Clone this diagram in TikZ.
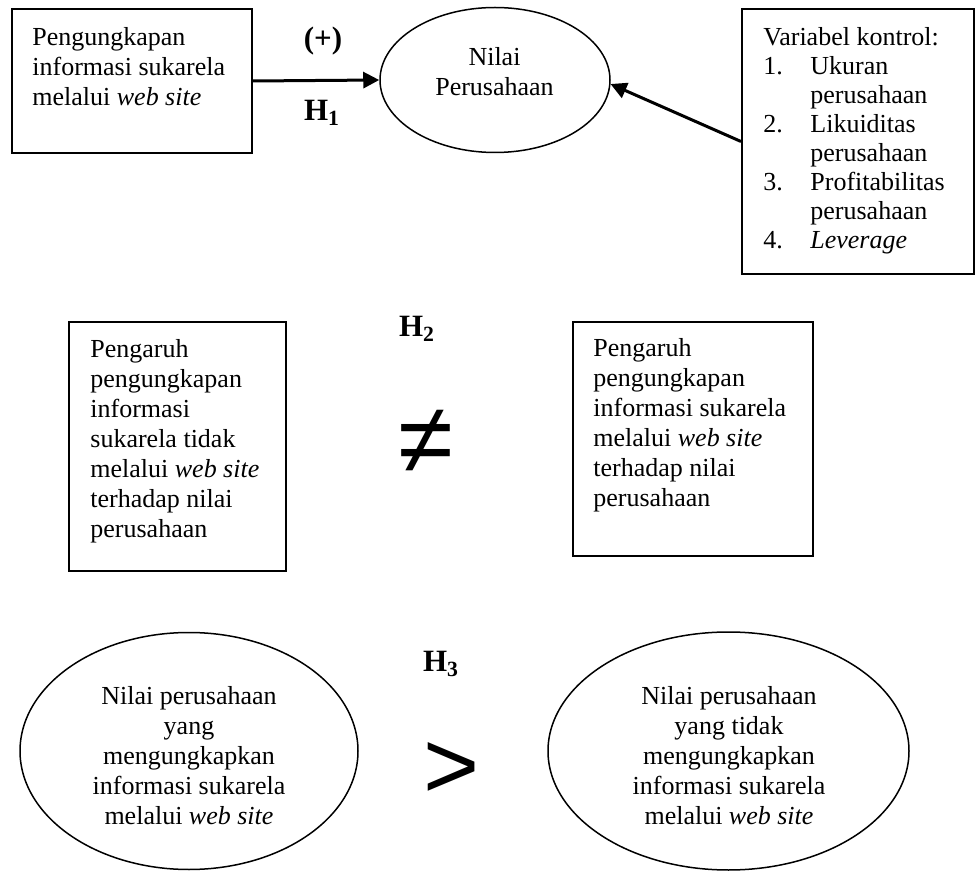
\documentclass[tikz,border=0pt]{standalone}
\usepackage{fontspec}
\setmainfont{Liberation Serif}
\setsansfont{Liberation Sans}
\usetikzlibrary{shapes.geometric,arrows.meta}
\begin{document}
\begin{tikzpicture}[x=0.5pt,y=-0.5pt,
 box/.style={draw,line width=1pt,inner sep=0,anchor=north west},
 txt/.style={inner sep=0,anchor=north west,align=left,font=\fontsize{13}{15}\selectfont},
 ctxt/.style={inner sep=0,align=center,font=\fontsize{13}{15}\selectfont},
 oval/.style={draw,ellipse,line width=0.75pt,inner sep=0},
 hyp/.style={inner sep=0,font=\fontsize{15.5}{18}\selectfont\bfseries},
 conn/.style={line width=1.5pt,-{Triangle[length=8pt,width=8pt]}},
 sym/.style={inner sep=0,font=\fontsize{50}{52}\selectfont\sffamily}]
\useasboundingbox (0,0) rectangle (975,871);
% top row
\node[box,minimum width=120pt,minimum height=72pt] (b1) at (11,8) {};
\node[txt] (t1) at (32,27) {Pengungkapan\\informasi sukarela\\melalui \textit{web site}};
\node[oval,minimum width=115pt,minimum height=72.5pt] (e1) at (495,80) {};
\node[ctxt] (e1t) at (494.5,72) {Nilai\\Perusahaan};
\node[box,minimum width=116pt,minimum height=132.5pt] (b2) at (741,8) {};
\node[txt,font=\fontsize{13}{14.5}\selectfont] (t2) at (763,27) {Variabel kontrol:\\
\makebox[23.5pt][l]{1.}Ukuran\\\hspace*{23.5pt}perusahaan\\
\makebox[23.5pt][l]{2.}Likuiditas\\\hspace*{23.5pt}perusahaan\\
\makebox[23.5pt][l]{3.}Profitabilitas\\\hspace*{23.5pt}perusahaan\\
\makebox[23.5pt][l]{4.}\textit{Leverage}};
\node[hyp] (plus) at (323,41) {(+)};
\node[hyp] (h1) at (322,113) {H\textsubscript{1}};
\draw[conn] (b1.east) -- (e1.west);
\draw[conn] (b2.west) -- (e1.-2);
% middle row
\node[box,minimum width=108.5pt,minimum height=124.5pt] (b3) at (68,321) {};
\node[txt] (t3) at (90,339) {Pengaruh\\pengungkapan\\informasi\\sukarela tidak\\melalui \textit{web site}\\terhadap nilai\\perusahaan};
\node[box,minimum width=120pt,minimum height=117pt] (b4) at (572,321) {};
\node[txt] (t4) at (593,338) {Pengaruh\\pengungkapan\\informasi sukarela\\melalui \textit{web site}\\terhadap nilai\\perusahaan};
\node[hyp] (h2) at (417,329) {H\textsubscript{2}};
\node[sym] (neq) at (426,442) {≠};
% bottom row
\node[oval,minimum width=169pt,minimum height=118.5pt] (e2) at (189,751) {};
\node[ctxt] (e2t) at (189,756) {Nilai perusahaan\\yang\\mengungkapkan\\informasi sukarela\\melalui \textit{web site}};
\node[oval,minimum width=180.5pt,minimum height=119pt] (e3) at (728.5,751) {};
\node[ctxt] (e3t) at (729,756) {Nilai perusahaan\\yang tidak\\mengungkapkan\\informasi sukarela\\melalui \textit{web site}};
\node[hyp] (h3) at (441,664) {H\textsubscript{3}};
\node[sym,font=\fontsize{48}{50}\selectfont\sffamily] (gt) at (452,771) {>};
\end{tikzpicture}
\end{document}
